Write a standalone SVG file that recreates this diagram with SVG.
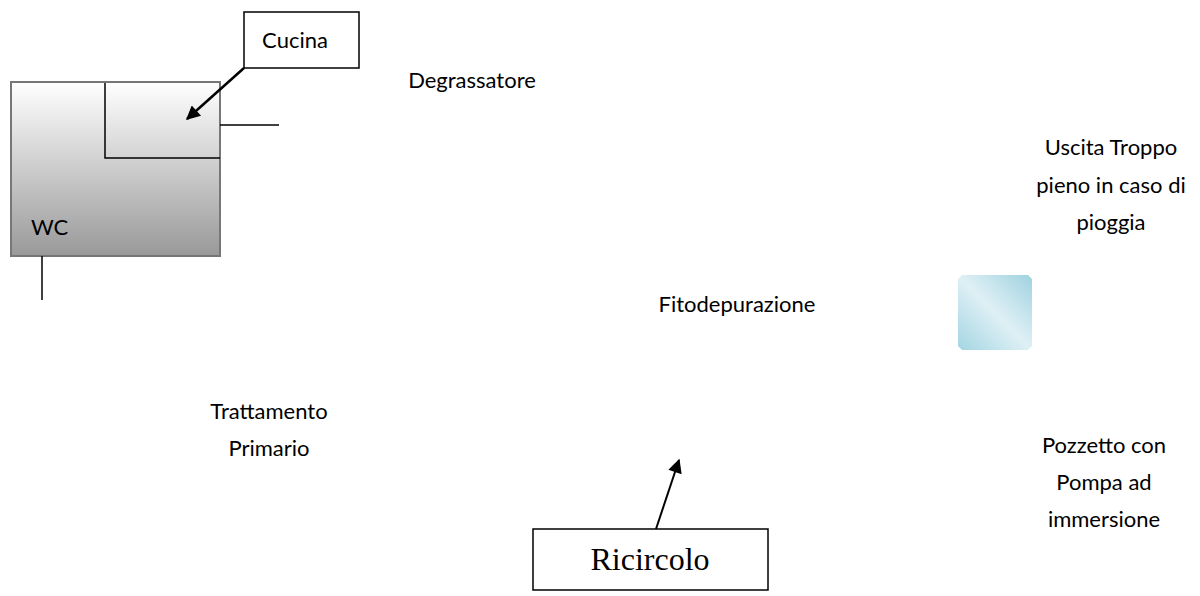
<svg xmlns="http://www.w3.org/2000/svg" width="1200" height="596" viewBox="0 0 1200 596">
<defs>
<linearGradient id="gray" x1="0" y1="0" x2="0" y2="1">
<stop offset="0" stop-color="#ffffff"/>
<stop offset="1" stop-color="#999999"/>
</linearGradient>
<linearGradient id="blue" x1="0" y1="1" x2="1" y2="0">
<stop offset="0" stop-color="#a3d5e3"/>
<stop offset="0.5" stop-color="#dff0f5"/>
<stop offset="1" stop-color="#9fd2e0"/>
</linearGradient>
<marker id="arr2" viewBox="0 0 10 10" refX="9" refY="5" markerWidth="18" markerHeight="14" markerUnits="userSpaceOnUse" orient="auto">
<path d="M0,0 L10,5 L0,10 z" fill="#000"/>
</marker>
</defs>
<style>
.t{font-family:Lato,"Open Sans",sans-serif;font-size:22px;fill:#000}
.ln{stroke:#000;stroke-width:1.5;fill:none}
.box{fill:#fff;stroke:#000;stroke-width:1.5}
</style>
<rect width="1200" height="596" fill="#fff"/>
<g id="casa">
<rect x="11" y="82" width="209" height="174" fill="url(#gray)" stroke="#777" stroke-width="2"/>
<polyline class="ln" points="105,83 105,158 220,158"/>
<line class="ln" x1="220" y1="125" x2="279" y2="125"/>
<line class="ln" x1="42" y1="256" x2="42" y2="300"/>
<text class="t" x="31" y="235">WC</text>
</g>
<g id="cucina">
<rect class="box" x="244" y="12" width="115" height="56"/>
<text class="t" x="295" y="48" text-anchor="middle">Cucina</text>
</g>
<g id="degrassatore"><text class="t" x="472" y="88" text-anchor="middle">Degrassatore</text></g>
<g id="fitodepurazione"><text class="t" x="737" y="312" text-anchor="middle">Fitodepurazione</text></g>
<g id="uscita"><text class="t" text-anchor="middle"><tspan x="1111" y="155">Uscita Troppo</tspan><tspan x="1111" y="193">pieno in caso di</tspan><tspan x="1111" y="230">pioggia</tspan></text></g>
<g id="trattamento"><text class="t" text-anchor="middle"><tspan x="269" y="419">Trattamento</tspan><tspan x="269" y="456">Primario</tspan></text></g>
<g id="pozzetto"><text class="t" text-anchor="middle"><tspan x="1104" y="453">Pozzetto con</tspan><tspan x="1104" y="490">Pompa ad</tspan><tspan x="1104" y="527">immersione</tspan></text></g>
<g id="vasca"><path d="M962,275 L1028,275 L1032,279 L1032,346 L1028,350 L962,350 L958,346 L958,279 Z" fill="url(#blue)"/></g>
<g id="ricircolo">
<rect class="box" x="533" y="529" width="235" height="61"/>
<text x="650" y="570" text-anchor="middle" font-family="'Liberation Serif',serif" font-size="32">Ricircolo</text>
</g>
<g id="connettori">
<line x1="244" y1="68" x2="187" y2="119" stroke="#000" stroke-width="2.5" marker-end="url(#arr2)"/>
<line x1="656" y1="529" x2="679" y2="460" stroke="#000" stroke-width="2" marker-end="url(#arr2)"/>
</g>
</svg>
